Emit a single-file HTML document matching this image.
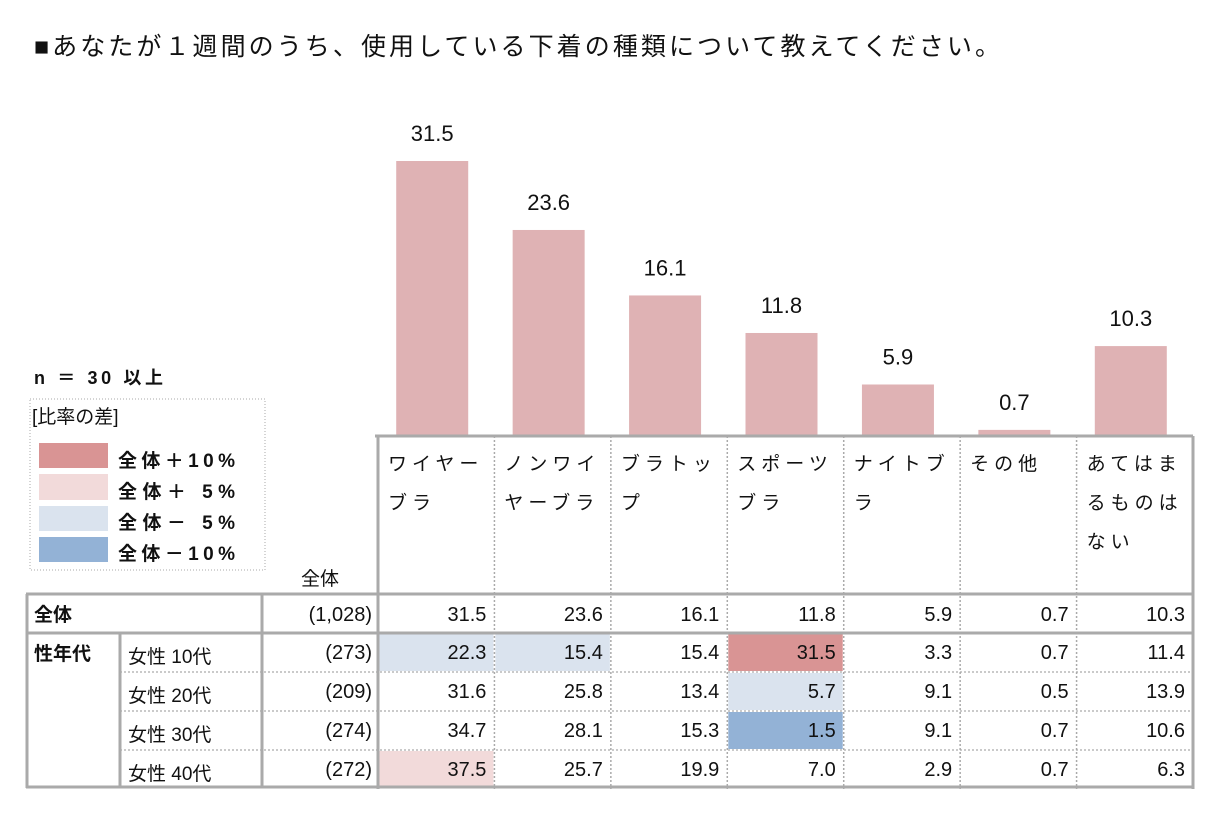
<!DOCTYPE html>
<html><head><meta charset="utf-8"><style>
body{margin:0;background:#fff;}
svg text{font-family:"Liberation Sans","Noto Sans CJK JP",sans-serif;fill:#111;}
</style></head><body>
<svg id="c" width="1221" height="820" xmlns="http://www.w3.org/2000/svg">
<text x="34" y="55" font-size="25" textLength="966" lengthAdjust="spacing">■あなたが１週間のうち、使用している下着の種類について教えてください。</text>
<text x="34" y="384" font-size="18" font-weight="bold" textLength="129" lengthAdjust="spacing">n ＝ 30  以上</text>
<g>
<rect x="30" y="399" width="235" height="171" fill="none" stroke="#aaa" stroke-dasharray="1,2"/>
<text x="32" y="423" font-size="19">[比率の差]</text>
<rect x="39" y="443" width="69" height="25" fill="#d99494"/><text x="118" y="467" font-size="19" font-weight="bold" textLength="117">全体＋10%</text>
<rect x="39" y="474" width="69" height="26" fill="#f2dada"/><text x="118" y="498" font-size="19" font-weight="bold" textLength="117">全体＋ 5%</text>
<rect x="39" y="506" width="69" height="25" fill="#dae3ee"/><text x="118" y="529" font-size="19" font-weight="bold" textLength="117">全体－ 5%</text>
<rect x="39" y="537" width="69" height="25" fill="#93b2d6"/><text x="118" y="560" font-size="19" font-weight="bold" textLength="117">全体－10%</text>
</g>
<g id="bars"></g>
<g id="table"></g>
</svg>
<script>
const categories=[["ワイヤー","ブラ"],["ノンワイ","ヤーブラ"],["ブラトッ","プ"],["スポーツ","ブラ"],["ナイトブ","ラ"],["その他"],["あてはま","るものは","ない"]];
const totalValues=[31.5,23.6,16.1,11.8,5.9,0.7,10.3];
const rowLabels=["女性 10代","女性 20代","女性 30代","女性 40代"];
const rowN=["(273)","(209)","(274)","(272)"];
const totalN="(1,028)";
const row10=[22.3,15.4,15.4,31.5,3.3,0.7,11.4];
const row20=[31.6,25.8,13.4,5.7,9.1,0.5,13.9];
const row30=[34.7,28.1,15.3,1.5,9.1,0.7,10.6];
const row40=[37.5,25.7,19.9,7.0,2.9,0.7,6.3];
const rows=[row10,row20,row30,row40];
const NS="http://www.w3.org/2000/svg";
function mk(p,t,a,txt){const e=document.createElementNS(NS,t);for(const k in a)e.setAttribute(k,a[k]);if(txt!==undefined)e.textContent=txt;p.appendChild(e);return e;}
const x0=378,cw=116.43,base=436,scale=8.73;
const xCol=i=>x0+i*cw;
const yVal=v=>base-v*scale;
const bars=document.getElementById('bars');
totalValues.forEach((v,i)=>{
 const cx=xCol(i)+cw/2-4;
 const r=mk(bars,'rect',{x:cx-36,y:yVal(v),width:72,height:base-yVal(v),fill:'#dfb2b4'});
 
 
 const t=mk(bars,'text',{x:cx,y:yVal(v)-20,'font-size':22,'text-anchor':'middle'},v.toFixed(1));
 
 
});
const tb=document.getElementById('table');
function color(v,t){const d=v-t;if(d>=10)return'#d99494';if(d>=5)return'#f2dada';if(d<=-10)return'#93b2d6';if(d<=-5)return'#dae3ee';return null;}
const rowY=[633,672,711,750,789];
categories.forEach((lines,i)=>{lines.forEach((s,j)=>{const t=mk(tb,'text',{x:xCol(i)+10,y:470+j*39,'font-size':19,'letter-spacing':'5'},s);
 
 });});
mk(tb,'text',{x:320,y:585,'font-size':19,'text-anchor':'middle'},'全体');
mk(tb,'text',{x:34,y:621,'font-size':19,'font-weight':'bold'},'全体');
mk(tb,'text',{x:372,y:621,'font-size':20,'text-anchor':'end'},totalN);
totalValues.forEach((v,i)=>{const t=mk(tb,'text',{x:xCol(i+1)-8,y:621,'font-size':20,'text-anchor':'end'},v.toFixed(1));
 
 });
mk(tb,'text',{x:34,y:660,'font-size':19,'font-weight':'bold'},'性年代');
rows.forEach((r,ri)=>{
 const y=rowY[ri];
 mk(tb,'text',{x:128,y:y+30,'font-size':19},rowLabels[ri]);
 mk(tb,'text',{x:372,y:y+26,'font-size':20,'text-anchor':'end'},rowN[ri]);
 r.forEach((v,i)=>{const c=color(v,totalValues[i]);
  if(c){const b=mk(tb,'rect',{x:xCol(i)+1,y:y+1,width:cw-2,height:37,fill:c});
   
   }
  const t=mk(tb,'text',{x:xCol(i+1)-8,y:y+26,'font-size':20,'text-anchor':'end'},v.toFixed(1));
  
  });
});
const g='#aaa';
for(let i=1;i<7;i++)mk(tb,'line',{x1:xCol(i),y1:436,x2:xCol(i),y2:789,stroke:g,'stroke-width':1.5,'stroke-dasharray':'2,2'});
for(let k=1;k<4;k++)mk(tb,'line',{x1:120,y1:rowY[k],x2:1193,y2:rowY[k],stroke:g,'stroke-width':1.2,'stroke-dasharray':'2,2'});
mk(tb,'line',{x1:375,y1:436,x2:1193,y2:436,stroke:g,'stroke-width':3});
mk(tb,'line',{x1:378,y1:436,x2:378,y2:789,stroke:g,'stroke-width':3});
mk(tb,'line',{x1:1193,y1:436,x2:1193,y2:789,stroke:g,'stroke-width':3});
mk(tb,'line',{x1:26,y1:594,x2:1193,y2:594,stroke:g,'stroke-width':3});
mk(tb,'line',{x1:26,y1:633,x2:1193,y2:633,stroke:g,'stroke-width':3});
mk(tb,'line',{x1:26,y1:787,x2:1193,y2:787,stroke:g,'stroke-width':3});
mk(tb,'line',{x1:27,y1:594,x2:27,y2:788,stroke:g,'stroke-width':3});
mk(tb,'line',{x1:262,y1:594,x2:262,y2:788,stroke:g,'stroke-width':3});
mk(tb,'line',{x1:120,y1:633,x2:120,y2:788,stroke:g,'stroke-width':3});
</script>
</body></html>
